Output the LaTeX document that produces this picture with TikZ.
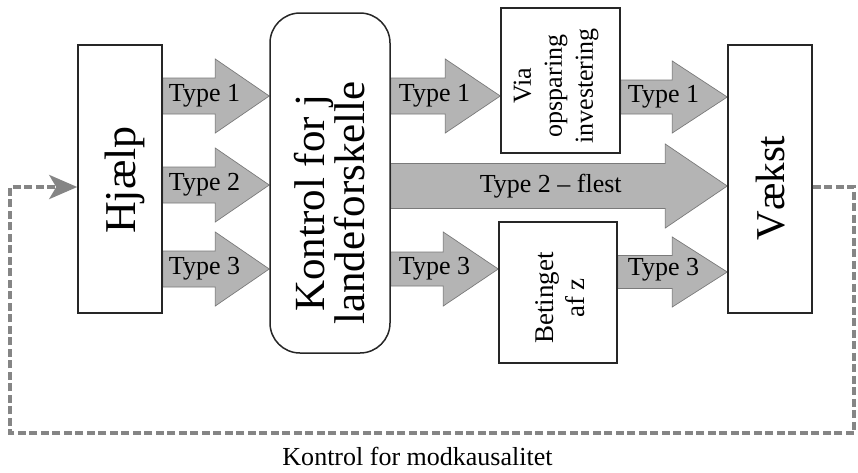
\documentclass[tikz,border=0pt]{standalone}
\usepackage{fontspec}
\setmainfont{Liberation Serif}
\usetikzlibrary{arrows.meta,calc,backgrounds}
\definecolor{arrfill}{HTML}{B4B4B4}
\definecolor{arredge}{HTML}{7A7A7A}
\definecolor{fbgray}{HTML}{858585}
% #1 from anchor, #2 to anchor, #3 y, #4 head length, #5 shaft half height, #6 head half height
\newcommand\blockarr[6]{%
  \draw[blockarrow] ($(#1 |- 0,#3)+(0,#5)$) -- ($(#2 |- 0,#3)+(-#4,#5)$) -- ($(#2 |- 0,#3)+(-#4,#6)$) -- (#2 |- 0,#3) -- ($(#2 |- 0,#3)+(-#4,-#6)$) -- ($(#2 |- 0,#3)+(-#4,-#5)$) -- ($(#1 |- 0,#3)+(0,-#5)$) -- cycle;}
\begin{document}
\begin{tikzpicture}[x=1pt,y=-1pt,
  box/.style={draw=black!85,line width=1.5pt,fill=white,inner sep=0pt},
  blockarrow/.style={fill=arrfill,draw=arredge,line width=0.7pt},
  typelabel/.style={font=\fontsize{26}{28}\selectfont,anchor=west,inner sep=0pt},
  fb/.style={draw=fbgray,line width=4pt,dash pattern=on 8pt off 3.5pt}]
\useasboundingbox (0,0) rectangle (858,472);
% boxes
\node[box,minimum width=84pt,minimum height=268pt] (hj) at (120,179) {};
\node[box,rounded corners=30pt,minimum width=120pt,minimum height=340pt] (ko) at (330,183) {};
\node[box,minimum width=119pt,minimum height=145pt] (via) at (560.5,80.5) {};
\node[box,minimum width=118pt,minimum height=141pt] (bet) at (558,292.5) {};
\node[box,minimum width=84pt,minimum height=268pt] (vk) at (770,179) {};
% box texts
\node[rotate=90,font=\fontsize{44}{44}\selectfont] (hjt) at (125,180) {Hjælp};
\node[rotate=90,align=center,font=\fontsize{43}{40}\selectfont] (kot) at (330,203) {Kontrol for j\\landeforskelle};
\node[rotate=90,align=center,font=\fontsize{26}{31}\selectfont] (viat) at (556,86) {Via\\opsparing\\investering};
\node[rotate=90,align=center,font=\fontsize{27}{31}\selectfont] (bett) at (560,298) {Betinget\\af z};
\node[rotate=90,font=\fontsize{41}{41}\selectfont] (vkt) at (771,188) {Vækst};
% block arrows and feedback on background
\begin{scope}[on background layer]
\blockarr{hj.east}{ko.west}{96}{54}{18}{37}
\blockarr{hj.east}{ko.west}{185}{54}{18}{37}
\blockarr{hj.east}{ko.west}{269}{54}{18}{37}
\blockarr{ko.east}{via.west}{96}{55}{18}{37}
\blockarr{via.east}{vk.west}{97}{55}{17}{36}
\blockarr{ko.east}{vk.west}{186}{62}{22.5}{42}
\blockarr{ko.east}{bet.west}{269}{55}{17}{37}
\blockarr{bet.east}{vk.west}{272}{55}{16.5}{35}
\end{scope}
% labels
\node[typelabel] (l1) at ($(hj.east |- 0,96)+(6,0)$) {Type 1};
\node[typelabel] (l2) at ($(hj.east |- 0,185)+(6,0)$) {Type 2};
\node[typelabel] (l3) at ($(hj.east |- 0,269)+(6,0)$) {Type 3};
\node[typelabel] (l4) at ($(ko.east |- 0,96)+(8,0)$) {Type 1};
\node[typelabel] (l5) at ($(via.east |- 0,97)+(7,0)$) {Type 1};
\node[typelabel,anchor=center] (l6) at ($(ko.east |- 0,186)+(160,0)$) {Type 2 – flest};
\node[typelabel] (l7) at ($(ko.east |- 0,269)+(8,0)$) {Type 3};
\node[typelabel] (l8) at ($(bet.east |- 0,270)+(10,0)$) {Type 3};
% feedback loop
\coordinate (fbR) at (854,433);
\coordinate (fbL) at (10,433);
\draw[fb,-{Stealth[length=28pt,width=24pt,inset=7pt,fill=fbgray]}] (vk.east |- 0,187) -| (fbR) -- (fbL) |- (hj.west |- 0,187);
\node[anchor=base,inner sep=0pt,font=\fontsize{26}{28}\selectfont] (fbt) at (417.5,465) {Kontrol for modkausalitet};
\end{tikzpicture}
\end{document}
